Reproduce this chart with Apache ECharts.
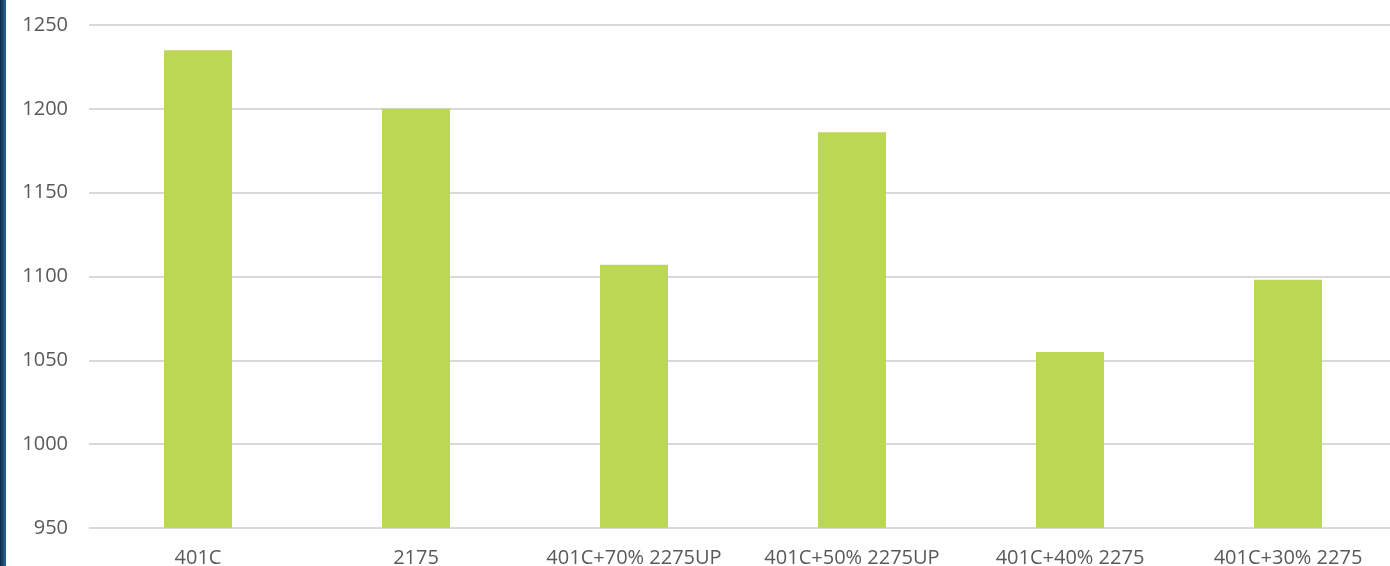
<!DOCTYPE html>
<html>
<head>
<meta charset="utf-8">
<script src="https://cdn.jsdelivr.net/npm/echarts@6/dist/echarts.min.js"></script>
<style>
  html, body { margin: 0; padding: 0; background: #ffffff; }
  #chart { width: 1390px; height: 566px; }
</style>
</head>
<body>
<div id="chart"></div>
<script>
// Mix names and measured values
const categories = ['401C', '2175', '401C+70% 2275UP', '401C+50% 2275UP', '401C+40% 2275', '401C+30% 2275'];
const values = [1235, 1200, 1107, 1186, 1055, 1098];
const yTicks = { min: 950, max: 1250, step: 50 };

const chart = echarts.init(document.getElementById('chart'), null, { renderer: 'canvas' });

const textStyle = { color: '#595959', fontFamily: 'Open Sans, Liberation Sans, sans-serif', fontSize: 20 };

chart.setOption({
  backgroundColor: '#ffffff',
  animation: false,
  graphic: [{
    type: 'rect',
    shape: { x: 0, y: 0, width: 6, height: 566 },
    style: {
      fill: new echarts.graphic.LinearGradient(0, 0, 1, 0, [
        { offset: 0, color: '#0e2a48' },
        { offset: 0.6, color: '#1f4f78' },
        { offset: 1, color: '#2a628e' }
      ])
    },
    z: 10
  }],
  grid: { left: 89, top: 25, width: 1308, bottom: 38, containLabel: false, outerBoundsMode: 'none' },
  xAxis: {
    type: 'category',
    data: categories,
    axisLine: { show: false },
    axisTick: { show: false },
    axisLabel: Object.assign({ margin: 20, interval: 0 }, textStyle)
  },
  yAxis: {
    type: 'value',
    min: yTicks.min,
    max: yTicks.max,
    interval: yTicks.step,
    axisLine: { show: false },
    axisTick: { show: false },
    axisLabel: Object.assign({ margin: 21, formatter: v => String(v) }, textStyle),
    splitLine: { lineStyle: { color: '#d9d9d9', width: 2 } }
  },
  series: [{
    type: 'bar',
    data: values,
    barWidth: 68,
    itemStyle: { color: '#bbd753' }
  }]
});
</script>
</body>
</html>
